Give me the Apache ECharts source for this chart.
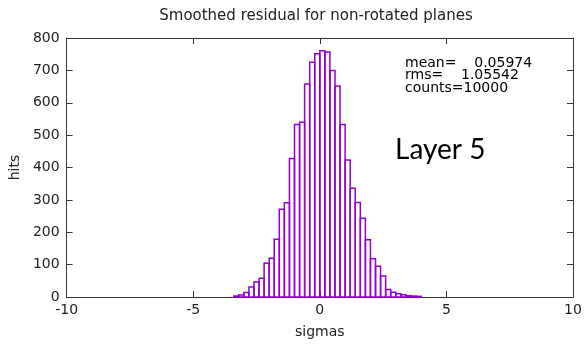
<!DOCTYPE html>
<html>
<head>
<meta charset="utf-8">
<script src="https://cdn.jsdelivr.net/npm/echarts@6/dist/echarts.min.js"></script>
<style>
  html, body { margin: 0; padding: 0; background: #fff; }
  #chart { width: 586px; height: 347px; }
</style>
</head>
<body>
<div id="chart"></div>
<script>
// bin edges (sigmas), one more than counts
const binEdges = [-3.4, -3.2, -3.0, -2.8, -2.6, -2.4, -2.2, -2.0, -1.8, -1.6, -1.4, -1.2, -1.0, -0.8, -0.6, -0.4, -0.2,
  0.0, 0.2, 0.4, 0.6, 0.8, 1.0, 1.2, 1.4, 1.6, 1.8, 2.0, 2.2, 2.4, 2.6, 2.8, 3.0, 3.2, 3.4, 3.6, 3.8, 4.0];
// hits per bin
const hits = [3, 6, 14, 31, 46, 58, 104, 120, 178, 271, 291, 428, 533, 540, 658, 725, 751,
  761, 757, 700, 652, 533, 423, 336, 292, 243, 177, 118, 95, 65, 23, 15, 10, 7, 4, 3, 2];
const xTicks = [-10, -5, 0, 5, 10];
const yTicks = [0, 100, 200, 300, 400, 500, 600, 700, 800];
const statsLines = ["mean=    0.05974", "rms=    1.05542", "counts=10000"];

const histData = hits.map((h, i) => [binEdges[i], binEdges[i + 1], h]);

const myChart = echarts.init(document.getElementById("chart"), null, { renderer: "canvas" });

const axisCommon = {
  axisLine: { onZero: false, lineStyle: { color: "#333", width: 1 } },
  axisTick: { inside: true, length: 6, lineStyle: { color: "#333" } },
  splitLine: { show: false },
};

const option = {
  animation: false,
  title: {
    text: "Smoothed residual for non-rotated planes",
    left: 311,
    top: 4,
    textAlign: "center",
    textStyle: { fontFamily: "DejaVu Sans", fontSize: 15, fontWeight: "normal", color: "#222" },
  },
  grid: { left: 62, right: 13, top: 38, bottom: 50 },
  xAxis: [
    {
      type: "value",
      min: xTicks[0],
      max: xTicks[xTicks.length - 1],
      interval: 5,
      name: "sigmas",
      nameLocation: "middle",
      nameGap: 28,
      nameTextStyle: { fontFamily: "DejaVu Sans", fontSize: 14, color: "#222" },
      axisLabel: { fontFamily: "DejaVu Sans", fontSize: 14, color: "#222", margin: 6 },
      ...axisCommon,
    },
    {
      type: "value",
      position: "top",
      min: xTicks[0],
      max: xTicks[xTicks.length - 1],
      interval: 5,
      axisLabel: { show: false },
      ...axisCommon,
    },
  ],
  yAxis: [
    {
      type: "value",
      min: yTicks[0],
      max: yTicks[yTicks.length - 1],
      interval: 100,
      name: "hits",
      nameLocation: "middle",
      nameGap: 38,
      nameRotate: 90,
      nameTextStyle: { fontFamily: "DejaVu Sans", fontSize: 14, color: "#222" },
      axisLabel: { fontFamily: "DejaVu Sans", fontSize: 14, color: "#222", margin: 7 },
      ...axisCommon,
    },
    {
      type: "value",
      position: "right",
      min: yTicks[0],
      max: yTicks[yTicks.length - 1],
      interval: 100,
      axisLabel: { show: false },
      ...axisCommon,
    },
  ],
  graphic: [
    {
      type: "text",
      left: 405,
      top: 56,
      style: {
        text: statsLines.join("\n"),
        font: "14px 'DejaVu Sans'",
        lineHeight: 12.5,
        fill: "#000",
      },
    },
    {
      type: "text",
      left: 395,
      top: 136,
      style: {
        text: "Layer 5",
        font: "28px Lato",
        fill: "#000",
      },
    },
  ],
  series: [
    {
      type: "custom",
      xAxisIndex: 0,
      yAxisIndex: 0,
      data: histData,
      renderItem: function (params, api) {
        const p0 = api.coord([api.value(0), api.value(2)]);
        const p1 = api.coord([api.value(1), 0]);
        return {
          type: "rect",
          shape: { x: p0[0], y: p0[1], width: p1[0] - p0[0], height: p1[1] - p0[1] },
          style: { fill: "none", stroke: "#9400d3", lineWidth: 1.5 },
        };
      },
    },
  ],
};

myChart.setOption(option);
window.onresize = function () {
  myChart.resize();
};
</script>
</body>
</html>
